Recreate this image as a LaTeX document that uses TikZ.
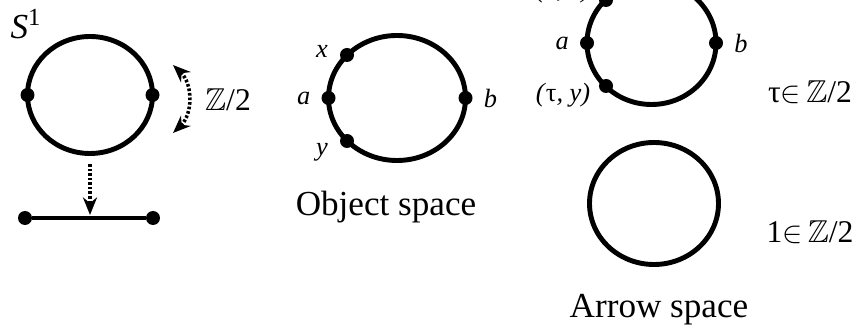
\documentclass[tikz,border=0pt]{standalone}
\usepackage{amssymb}
\usepackage{fontspec}
\setmainfont{Liberation Serif}
\usetikzlibrary{arrows.meta,positioning,calc}
\newcommand{\zdos}{$\mathbb{Z}$/2}

\begin{document}
\begin{tikzpicture}[x=0.02cm,y=-0.02cm,
  anillo/.style={line width=2.8pt},
  punto/.style={circle,fill=black,inner sep=0pt,minimum size=0.28cm},
  etiqueta/.style={inner sep=1pt,font=\fontsize{15}{18}\selectfont\itshape},
  grupo/.style={inner sep=1pt,font=\fontsize{18}{21}\selectfont},
  titulo/.style={inner sep=1pt,font=\fontsize{20}{24}\selectfont},
  punteada/.style={line width=2pt,dash pattern=on 1.5pt off 1.1pt},
  flechapunt/.style={punteada,-{Stealth[length=10pt,width=8pt]}}
]
\useasboundingbox (0,0) rectangle (861,330);

% circulo S^1 y su cociente
\draw[anillo] (90,95) ellipse [x radius=62.5, y radius=58.5];
\node[punto] (izq) at (27.5,95) {};
\node[punto] (der) at (152.5,95) {};
\node[inner sep=1pt,font=\fontsize{20}{24}\selectfont] (ese) at (26,24) {\textit{S}\textsuperscript{1}};
\coordinate (giroarr) at (173,65);
\coordinate (giroab) at (173,133);
\draw[punteada,{Stealth[length=10pt,width=8pt]}-{Stealth[length=10pt,width=8pt]}]
  (giroarr) .. controls (193,84) and (193,114) .. (giroab);
\node[grupo] (accion) at (228,100) {\zdos};
\coordinate (bajo) at (90,164);
\node[punto] (segi) at (25,218) {};
\node[punto] (segd) at (153,218) {};
\draw[line width=2.4pt] (segi) -- (segd);
\coordinate (medio) at (90,215);
\draw[flechapunt] (bajo) -- (medio);

% espacio de objetos
\draw[anillo] (397,98) ellipse [x radius=68.5, y radius=62.5];
\node[punto] (oa) at (328.5,98) {};
\node[punto] (ob) at (465.5,98) {};
\node[punto] (ox) at (347,55) {};
\node[punto] (oy) at (347,141) {};
\node[etiqueta,left=5pt of oa] (la) {a};
\node[etiqueta,right=5pt of ob] (lb) {b};
\node[etiqueta] (lx) at (322,51) {x};
\node[etiqueta] (ly) at (322,152) {y};
\node[titulo] (objetos) at (386,207) {Object space};

% espacio de flechas
\draw[anillo] (651.5,43) ellipse [x radius=64.5, y radius=61.5];
\node[punto] (fa) at (587,43) {};
\node[punto] (fb) at (716,43) {};
\node[punto] (fx) at (606,0) {};
\node[punto] (fy) at (606,86) {};
\node[etiqueta,left=5pt of fa] (ma) {a};
\node[etiqueta,right=5pt of fb] (mb) {b};
\node[etiqueta] (mx) at (563,-9) {(\textup{τ}, x)};
\node[etiqueta] (my) at (563,95) {(\textup{τ}, y)};
\node[grupo] (tau) at (810,92) {τ$\in$\,\zdos};

\draw[anillo] (654,203.5) ellipse [x radius=64.5, y radius=61];
\node[grupo] (uno) at (810,232) {1$\in$\,\zdos};
\node[titulo] (flechas) at (659,310) {Arrow space};
\end{tikzpicture}
\end{document}
